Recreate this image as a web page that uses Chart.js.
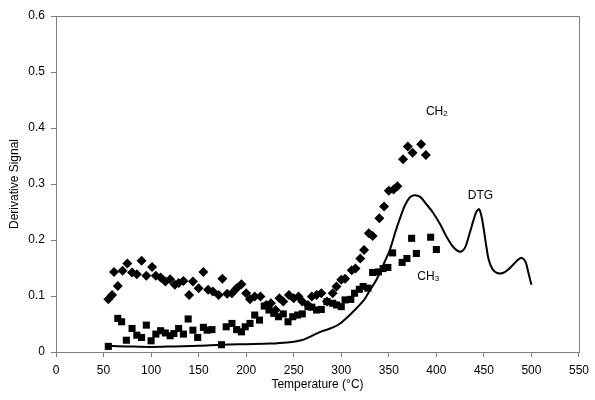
<!DOCTYPE html>
<html>
 <head>
  <meta charset="utf-8" />
  <title></title>
  <style>
    body { margin: 0; background: #fff; }
  </style>
 </head>
 <body>
    <canvas id="dtgChart" width="595" height="400"></canvas>

    <script src="https://cdnjs.cloudflare.com/ajax/libs/Chart.js/4.4.1/chart.umd.min.js"></script>
  <script>

// CH2 signal (diamonds)
let ch2Temp = [55, 59, 61, 65, 70, 75, 80, 85, 90, 95, 101, 105, 110, 115, 120, 125, 129, 134, 140, 144,
  150, 155, 160, 165, 171, 175, 180, 185, 190, 195, 200, 204, 209, 215, 221, 226, 231, 235, 239, 245,
  250, 255, 259, 265, 269, 274, 279, 285, 291, 295, 300, 304, 311, 315, 320, 324, 329, 333, 340, 345,
  350, 355, 359, 365, 370, 375, 384, 389];
let ch2Val = [0.094, 0.102, 0.143, 0.118, 0.145, 0.158, 0.142, 0.139, 0.163, 0.136, 0.152, 0.136, 0.133, 0.126, 0.130, 0.120, 0.123, 0.127, 0.102, 0.126,
  0.114, 0.143, 0.111, 0.108, 0.102, 0.131, 0.104, 0.105, 0.114, 0.121, 0.105, 0.094, 0.099, 0.099, 0.084, 0.087, 0.075, 0.096, 0.090, 0.102,
  0.096, 0.099, 0.090, 0.084, 0.099, 0.102, 0.105, 0.090, 0.105, 0.117, 0.129, 0.131, 0.146, 0.149, 0.167, 0.182, 0.212, 0.207, 0.239, 0.260,
  0.288, 0.290, 0.296, 0.344, 0.367, 0.356, 0.371, 0.352];

// CH3 signal (squares)
let ch3Temp = [55, 65, 69, 74, 80, 85, 90, 95, 100, 105, 110, 115, 120, 124, 129, 134, 139, 144, 149, 155,
  159, 164, 174, 179, 185, 190, 195, 199, 204, 209, 214, 219, 224, 229, 234, 239, 244, 249, 254, 259,
  265, 269, 274, 279, 285, 291, 295, 300, 304, 310, 314, 319, 323, 328, 333, 339, 344, 349, 354, 364,
  369, 374, 379, 394, 400];
let ch3Val = [0.010, 0.060, 0.054, 0.021, 0.042, 0.030, 0.026, 0.048, 0.020, 0.032, 0.038, 0.034, 0.029, 0.033, 0.042, 0.032, 0.059, 0.039, 0.026, 0.044,
  0.039, 0.040, 0.013, 0.045, 0.051, 0.040, 0.036, 0.045, 0.051, 0.066, 0.057, 0.082, 0.075, 0.069, 0.063, 0.068, 0.054, 0.063, 0.066, 0.068,
  0.081, 0.080, 0.075, 0.076, 0.090, 0.087, 0.084, 0.081, 0.093, 0.094, 0.105, 0.112, 0.117, 0.114, 0.142, 0.143, 0.149, 0.151, 0.177, 0.160,
  0.167, 0.203, 0.176, 0.205, 0.183];

// DTG curve
let dtgTemp = [55, 75, 100, 125, 150, 175, 200, 225, 243, 258, 268, 278, 290, 298, 307, 317, 324, 330, 337, 344,
  351, 357, 362, 367, 372, 377, 383, 389, 396, 404, 411, 418, 425, 430, 435, 439, 442, 445, 448, 452,
  455, 459, 464, 470, 476, 482, 486, 490, 494, 497, 500];
let dtgVal = [0.011, 0.010, 0.009, 0.010, 0.011, 0.013, 0.014, 0.015, 0.017, 0.021, 0.028, 0.036, 0.043, 0.050, 0.063, 0.080, 0.093, 0.110, 0.129, 0.155,
  0.182, 0.215, 0.240, 0.262, 0.276, 0.280, 0.277, 0.265, 0.250, 0.228, 0.205, 0.187, 0.179, 0.186, 0.212, 0.235, 0.250, 0.255, 0.238, 0.195,
  0.165, 0.148, 0.141, 0.141, 0.148, 0.158, 0.165, 0.168, 0.160, 0.140, 0.120];

// curve labels
let noteText = ['CH', 'DTG', 'CH'];
let noteSub  = ['2', '', '3'];
let noteTemp = [389, 433, 380];
let noteVal  = [0.429, 0.280, 0.134];

let fontFam = "'Liberation Sans', Arial, sans-serif";
let toPts = (xs, ys) => xs.map((x, i) => ({x: x, y: ys[i]}));

/////////plugins
let frame = {
  id: 'frame',
  afterDraw(chart) {
    let a = chart.chartArea, ctx = chart.ctx;
    ctx.save();
    ctx.strokeStyle = '#808080';
    ctx.lineWidth = 1;
    ctx.strokeRect(a.left + 0.5, a.top + 0.5, a.right - a.left, a.bottom - a.top);
    ctx.restore();
  }
};
let notes = {
  id: 'notes',
  afterDatasetsDraw(chart) {
    let ctx = chart.ctx, xs = chart.scales.x, ys = chart.scales.y;
    ctx.save();
    ctx.fillStyle = '#000';
    ctx.textBaseline = 'middle';
    ctx.textAlign = 'left';
    for (let i = 0; i < noteText.length; i++) {
      let px = xs.getPixelForValue(noteTemp[i]);
      let py = ys.getPixelForValue(noteVal[i]);
      ctx.font = '12px ' + fontFam;
      ctx.fillText(noteText[i], px, py);
      if (noteSub[i]) {
        let w = ctx.measureText(noteText[i]).width;
        ctx.font = '8px ' + fontFam;
        ctx.fillText(noteSub[i], px + w, py + 2);
      }
    }
    ctx.restore();
  }
};

/////////chart
var cv = document.getElementById("dtgChart");
var dtgChart = new Chart(cv, {
    type: 'scatter',
    data: {
        datasets: [
        {
          label: 'DTG',
          data: toPts(dtgTemp, dtgVal),
          showLine: true,
          borderColor: '#000',
          borderWidth: 2,
          pointRadius: 0,
          tension: 0.3,
          order: 3
        },
        {
          label: 'CH3',
          data: toPts(ch3Temp, ch3Val),
          pointStyle: 'rect',
          pointRadius: 5,
          backgroundColor: '#000',
          borderColor: '#000',
          borderWidth: 0,
          order: 2
        },
        {
          label: 'CH2',
          data: toPts(ch2Temp, ch2Val),
          pointStyle: 'rectRot',
          pointRadius: 5,
          backgroundColor: '#000',
          borderColor: '#000',
          borderWidth: 0,
          order: 1
        }]
    },
    options: {
      responsive: false,
      animation: false,
      layout: { padding: { left: 0, right: 11, top: 16, bottom: 0 } },
      plugins: { legend: { display: false }, tooltip: { enabled: false } },
      scales: {
        x: {
          type: 'linear',
          min: 0, max: 550,
          afterFit(s) { s.height = 48; },
          ticks: { stepSize: 50, color: '#000', padding: 6, maxRotation: 0, font: { family: fontFam, size: 12 } },
          grid: { drawOnChartArea: false, drawTicks: true, tickLength: 5, color: '#808080' },
          border: { color: '#808080' },
          title: { display: true, text: 'Temperature (°C)', color: '#000', padding: { top: 0, bottom: 8 }, font: { family: fontFam, size: 12 } }
        },
        y: {
          min: 0, max: 0.6,
          afterFit(s) { s.width = 56; },
          ticks: { stepSize: 0.1, color: '#000', padding: 6, font: { family: fontFam, size: 12 } },
          grid: { drawOnChartArea: false, drawTicks: true, tickLength: 5, color: '#808080' },
          border: { color: '#808080' },
          title: { display: true, text: 'Derivative Signal', color: '#000', padding: { top: 7, bottom: 0 }, font: { family: fontFam, size: 12 } }
        }
      }
    },
    plugins: [frame, notes]
});

  </script>

</body>
</html>
